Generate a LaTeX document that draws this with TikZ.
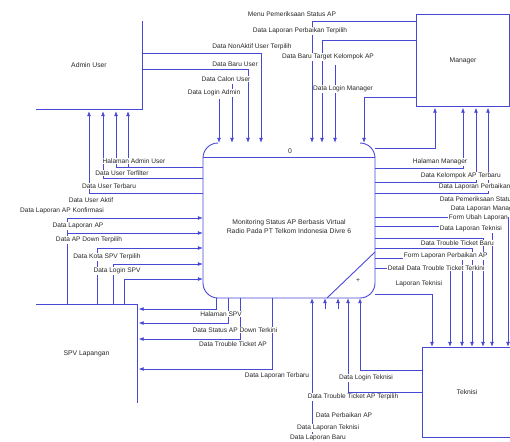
\documentclass[tikz,border=0pt]{standalone}
\usepackage{fontspec}
\newfontfamily\lf{Liberation Sans}
\usetikzlibrary{arrows.meta}
\definecolor{fb}{RGB}{72,72,215}
\definecolor{tx}{RGB}{40,40,40}
\begin{document}
\begin{tikzpicture}[x=1pt,y=-1pt,
  flow/.style={draw=fb,line width=0.75pt,-{Latex[length=5pt,width=4pt]}},
  edgeline/.style={draw=fb,line width=0.9pt},
  lbl/.style={font=\lf\fontsize{6.6}{7.5}\selectfont,text=tx,fill=white,inner sep=0.6pt},
  ttl/.style={font=\lf\fontsize{6.8}{9}\selectfont,text=tx,inner sep=0pt,align=center}]
\useasboundingbox (0,0) rectangle (510,441);
\fill[white] (0,0) rectangle (510,441);

% entities and process
\node[ttl,minimum width=106pt,minimum height=88pt] (admin) at (89,65) {Admin User};
\node[ttl,minimum width=92pt,minimum height=91pt] (manager) at (463,60.5) {Manager};
\node[ttl,minimum width=101pt,minimum height=98pt] (spv) at (86.5,354) {SPV Lapangan};
\node[ttl,minimum width=88pt,minimum height=89pt] (teknisi) at (467,392.5) {Teknisi};
\node[ttl,minimum width=172pt,minimum height=155pt] (proc) at (289,220.5) {};
\node[ttl] (ptext) at (289,227)
  {Monitoring Status AP Berbasis Virtual\\Radio Pada PT Telkom Indonesia Divre 6};
\node[ttl] (pnum) at (290,151) {0};
\node[ttl] (pplus) at (358,281) {+};

\draw[edgeline] (admin.north east) -- (admin.south east) -- (admin.south west);
\draw[edgeline] (manager.south west) rectangle (manager.north east);
\draw[edgeline] (spv.south east) -- (spv.north east) -- (spv.north west);
\draw[edgeline] (teknisi.north east) -- (teknisi.north west) -- (teknisi.south west) -- (teknisi.south east);
\draw[edgeline] (218,143) .. controls (209.7,143) and (203,149.7) .. (203,158) -- (203,283)
  .. controls (203,291.3) and (209.7,298) .. (218,298) -- (360,298)
  .. controls (368.3,298) and (375,291.3) .. (375,283) -- (375,158)
  .. controls (375,149.7) and (368.3,143) .. (360,143);
\draw[edgeline] (203,157) -- (375,157);
\draw[edgeline] (327,298) -- (375,252);

% top flows into the process
\draw[flow] (admin.east |- 0,53) -| (261,0 |- proc.north);
\draw[flow] (admin.east |- 0,69) -| (248,0 |- proc.north);
\coordinate (cu) at (232,84);
\draw[flow] (cu) -- (cu |- proc.north);
\coordinate (la) at (219,99);
\draw[flow] (la) -- (la |- proc.north);
\draw[flow] (manager.west |- 0,21) -| (312,0 |- proc.north);
\draw[flow] (manager.west |- 0,40) -| (322,0 |- proc.north);
\coordinate (bt) at (335,65);
\draw[flow] (bt) -- (bt |- proc.north);
\draw[flow] (manager.west |- 0,97) -| (364,0 |- proc.north);

% process to admin
\draw[flow,shorten >=2pt] (proc.west |- 0,167) -| (128,0 |- admin.south);
\draw[flow,shorten >=2pt] (proc.west |- 0,167) -| (116,0 |- admin.south);
\draw[flow,shorten >=2pt] (proc.west |- 0,178) -| (103,0 |- admin.south);
\draw[flow,shorten >=2pt] (proc.west |- 0,193) -| (89,0 |- admin.south);

% SPV to process
\draw[flow] (spv.north -| 67,0) |- (proc.west |- 0,218);
\draw[flow] (spv.north -| 67,0) |- (proc.west |- 0,233);
\draw[flow] (spv.north -| 97,0) |- (proc.west |- 0,248);
\draw[flow] (spv.north -| 113,0) |- (proc.west |- 0,264);
\draw[flow] (spv.north -| 124,0) |- (proc.west |- 0,279);

% process to SPV
\draw[flow,shorten >=1.5pt] (216,0 |- proc.south) |- (spv.east |- 0,309);
\draw[flow,shorten >=1.5pt] (228,0 |- proc.south) |- (spv.east |- 0,323);
\draw[flow,shorten >=1.5pt] (240,0 |- proc.south) |- (spv.east |- 0,339);
\draw[flow,shorten >=1.5pt] (272,0 |- proc.south) |- (spv.east |- 0,369);

% teknisi to process
\draw[flow] (teknisi.west |- 0,370) -| (360,0 |- proc.south);
\draw[flow] (teknisi.west |- 0,392) -| (348,0 |- proc.south);
\coordinate (pa) at (338,309);
\draw[flow] (pa) -- (pa |- proc.south);
\coordinate (lt) at (325,309);
\draw[flow] (lt) -- (lt |- proc.south);
\coordinate (lb) at (312,441);
\draw[flow] (lb) -- (lb |- proc.south);

% process to manager
\draw[flow,shorten >=1.5pt] (proc.east |- 0,148) -| (435,0 |- manager.south);
\draw[flow,shorten >=1.5pt] (proc.east |- 0,168) -| (463,0 |- manager.south);
\draw[flow,shorten >=1.5pt] (proc.east |- 0,182) -| (476,0 |- manager.south);
\draw[flow,shorten >=1.5pt] (proc.east |- 0,193) -| (488,0 |- manager.south);

% process to teknisi
\draw[flow,shorten >=1pt] (proc.east |- 0,217) -| (508,0 |- teknisi.north);
\draw[flow,shorten >=1pt] (proc.east |- 0,226) -| (492,0 |- teknisi.north);
\draw[flow,shorten >=1pt] (proc.east |- 0,238) -| (483,0 |- teknisi.north);
\draw[flow,shorten >=1pt] (proc.east |- 0,248) -| (472,0 |- teknisi.north);
\draw[flow,shorten >=1pt] (proc.east |- 0,258) -| (462,0 |- teknisi.north);
\draw[flow,shorten >=1pt] (proc.east |- 0,268) -| (450,0 |- teknisi.north);
\draw[flow,shorten >=1pt] (proc.east |- 0,294) -| (432,0 |- teknisi.north);

% labels top
\node[lbl] (t1) at (292,14) {Menu Pemeriksaan Status AP};
\node[lbl] (t2) at (300,31) {Data Laporan Perbaikan Terpilih};
\node[lbl] (t3) at (252,47) {Data NonAktif User Terpilih};
\node[lbl] (t4) at (328,57) {Data Baru Target Kelompok AP};
\node[lbl] (t5) at (235,64) {Data Baru User};
\node[lbl] (t6) at (226,79) {Data Calon User};
\node[lbl] (t7) at (214,93) {Data Login Admin};
\node[lbl] (t8) at (343,89) {Data Login Manager};

% labels left
\node[lbl] (l1) at (134,161) {Halaman Admin User};
\node[lbl] (l2) at (122,173) {Data User Terfilter};
\node[lbl] (l3) at (109,186) {Data User Terbaru};
\node[lbl] (l4) at (91,200) {Data User Aktif};
\node[lbl] (l5) at (62,211) {Data Laporan AP Konfirmasi};
\node[lbl] (l6) at (78,226) {Data Laporan AP};
\node[lbl] (l7) at (89,240) {Data AP Down Terpilih};
\node[lbl] (l8) at (107,257) {Data Kota SPV Terpilih};
\node[lbl] (l9) at (117,271) {Data Login SPV};

% labels bottom
\node[lbl] (b1) at (221,314) {Halaman SPV};
\node[lbl] (b2) at (235,330) {Data Status AP Down Terkini};
\node[lbl] (b3) at (233,344) {Data Trouble Ticket AP};
\node[lbl] (b4) at (277,376) {Data Laporan Terbaru};
\node[lbl] (b5) at (366,378) {Data Login Teknisi};
\node[lbl] (b6) at (353,397) {Data Trouble Ticket AP Terpilih};
\node[lbl] (b7) at (344,415) {Data Perbaikan AP};
\node[lbl] (b8) at (328,428) {Data Laporan Teknisi};
\node[lbl] (b9) at (318,438) {Data Laporan Baru};

% labels right
\node[lbl] (r1) at (440,162) {Halaman Manager};
\node[lbl,anchor=west] (r2) at (420,176) {Data Kelompok AP Terbaru};
\node[lbl,anchor=west] (r3) at (438,187) {Data Laporan Perbaikan Terbaru};
\node[lbl,anchor=west] (r4) at (439,199) {Data Pemeriksaan Status AP};
\node[lbl,anchor=west] (r5) at (450,209) {Data Laporan Manager};
\node[lbl,anchor=west] (r6) at (448,218) {Form Ubah Laporan};
\node[lbl,anchor=west] (r7) at (439,229) {Data Laporan Teknisi};
\node[lbl,anchor=west] (r8) at (420,243) {Data Trouble Ticket Baru};
\node[lbl,anchor=west] (r9) at (403,256) {Form Laporan Perbaikan AP};
\node[lbl,anchor=west] (r10) at (387,268) {Detail Data Trouble Ticket Terkini};
\node[lbl,anchor=west] (r11) at (395,284) {Laporan Teknisi};
\end{tikzpicture}
\end{document}
